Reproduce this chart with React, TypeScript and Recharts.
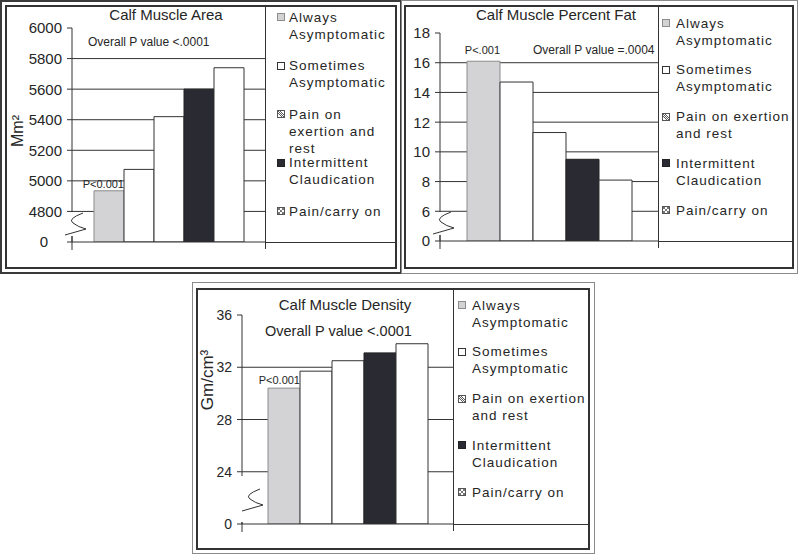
import React from 'react'
import { BarChart, Bar, XAxis, YAxis, CartesianGrid, LabelList } from 'recharts'

// groups shown in every panel (legend order = bar order)
const groups = ['Always Asymptomatic', 'Sometimes Asymptomatic', 'Pain on exertion and rest', 'Intermittent Claudication', 'Pain/carry on']
const groupKeys = ['always', 'sometimes', 'painRest', 'claudication', 'carryOn']
const groupFills = ['#d3d3d5', '#ffffff', '#ffffff', '#2a2a32', '#ffffff']
const groupStrokes = ['#8c8c8c', '#333333', '#333333', '#222222', '#333333']
const legendIcons = ['solid', 'solid', 'hatch', 'solid', 'check']

// values
const areaValues = [4935, 5075, 5420, 5600, 5740]
const fatValues = [16.1, 14.7, 11.3, 9.5, 8.1]
const densityValues = [30.4, 31.7, 32.5, 33.1, 33.8]

// axis ticks (first tick is the broken-axis base, shown as "0")
const areaTicks = [4600, 4800, 5000, 5200, 5400, 5600, 5800, 6000]
const fatTicks = [4, 6, 8, 10, 12, 14, 16, 18]
const densityTicks = [20, 24, 28, 32, 36]

const FONT = '"Liberation Sans", Arial, Helvetica, sans-serif'
const INK = '#262626'

const makeRows = (values: number[]) => {
	const row: Record<string, any> = { name: 'calf' }
	groupKeys.forEach((k, i) => {
		row[k] = values[i]
	})
	return [row]
}

const LegendIcon = ({ kind, fill, stroke }: { kind: string; fill: string; stroke: string }) => (
	<svg width={8} height={8} style={{ display: 'block' }}>
		<rect x={0.5} y={0.5} width={7} height={7} fill={kind === 'solid' ? fill : '#fff'} stroke={kind === 'solid' ? stroke : '#555'} />
		{kind === 'hatch' && <path d="M1 3 L5 7 M1 1 L7 7 M3 1 L7 5" stroke="#444" strokeWidth={0.9} />}
		{kind === 'check' && <path d="M1 1 h2 v2 h-2 Z M5 1 h2 v2 h-2 Z M3 3 h2 v2 h-2 Z M1 5 h2 v2 h-2 Z M5 5 h2 v2 h-2 Z" fill="#777" />}
	</svg>
)

type Note = { text: string; left: number; cy: number; size: number }

type PanelProps = {
	outer: { l: number; t: number; w: number; h: number; color: string; bw: number }
	inner: { l: number; t: number; w: number; h: number }
	plot: { l: number; r: number; t: number; b: number }
	title: string
	titleCx: number
	titleCy: number
	values: number[]
	ticks: number[]
	tickSize: number
	zeroDx: number
	yLabel: string
	yLabelPos: { cx: number; cy: number; size: number }
	notes: Note[]
	pText: string
	pOffset: number
	barSize: number
	legend: { r: number; iconL: number; textL: number; textW: number; firstCy: number; step: number }
	brk: { y1: number; y2: number; dx: number; dy: number }
}

function Panel(p: PanelProps) {
	const yw = 30
	const xh = 10
	const lo = p.ticks[0]
	const hi = p.ticks[p.ticks.length - 1]
	const grid = p.ticks.slice(1, -1)
	const margin = {
		left: p.plot.l - p.outer.l - yw,
		right: p.outer.l + p.outer.w - p.plot.r,
		top: p.plot.t - p.outer.t,
		bottom: p.outer.t + p.outer.h - p.plot.b - xh
	}
	const renderTick = (props: any) => {
		const { x, y, payload } = props
		const isBase = payload.value === lo
		return (
			<text x={x + (isBase ? p.zeroDx : 0)} y={y} dy="0.36em" textAnchor="end" fontSize={p.tickSize} fill={INK} fontFamily={FONT}>
				{isBase ? '0' : payload.value}
			</text>
		)
	}
	const ax = 15
	const ay = 50
	const { dx, dy } = p.brk
	return (
		<>
			<div style={{ position: 'absolute', left: p.outer.l, top: p.outer.t, width: p.outer.w, height: p.outer.h, boxSizing: 'border-box', border: `${p.outer.bw}px solid ${p.outer.color}` }} />
			<div style={{ position: 'absolute', left: p.inner.l, top: p.inner.t, width: p.inner.w, height: p.inner.h, boxSizing: 'border-box', border: `2px solid #333` }} />
			<div style={{ position: 'absolute', left: p.outer.l, top: p.outer.t }}>
				<BarChart width={p.outer.w} height={p.outer.h} data={makeRows(p.values)} margin={margin} barGap={0} barSize={p.barSize}>
					<CartesianGrid vertical={false} horizontalValues={grid} stroke="#333" />
					<XAxis dataKey="name" height={xh} tick={false} tickLine={false} axisLine={{ stroke: '#333' }} />
					<YAxis type="number" width={yw} domain={[lo, hi]} ticks={p.ticks} interval={0} allowDataOverflow tick={renderTick} tickSize={5} tickMargin={5} tickLine={{ stroke: '#333' }} axisLine={{ stroke: '#333' }} />
					{groupKeys.map((k, i) => (
						<Bar key={k} dataKey={k} name={groups[i]} fill={groupFills[i]} stroke={groupStrokes[i]} strokeWidth={1} isAnimationActive={false}>
							{i === 0 && (
								<LabelList
									dataKey={k}
									content={(lp: any) => (
										<text x={lp.x + lp.width} y={lp.y - p.pOffset} dy="0.36em" textAnchor="end" fontSize={11} fill={INK} fontFamily={FONT}>
											{p.pText}
										</text>
									)}
								/>
							)}
						</Bar>
					))}
				</BarChart>
			</div>
			{/* axis break */}
			<svg width={40} height={70} style={{ position: 'absolute', left: p.plot.l - ax, top: p.plot.b - ay }}>
				<rect x={ax - 3} y={ay - p.brk.y1} width={6} height={p.brk.y1 - p.brk.y2} fill="#fff" />
				<path d={`M${ax + 11 + dx} ${ay - 29 + dy} Q${ax - 5 + dx} ${ay - 23 + dy} ${ax + 1 + dx} ${ay - 19 + dy} Q${ax + 6 + dx} ${ay - 15 + dy} ${ax + 14 + dx} ${ay - 13 + dy}`} fill="none" stroke="#333" strokeWidth={1} />
				<path d={`M${ax - 7 + dx} ${ay - 7 + dy} L${ax + 14 + dx} ${ay - 13 + dy}`} stroke="#333" strokeWidth={1} />
				<path d={`M${ax} ${ay - p.brk.y2} L${ax} ${ay + 8}`} stroke="#333" strokeWidth={1} />
			</svg>
			<div style={{ position: 'absolute', left: p.titleCx - 150, width: 300, top: p.titleCy - 9, lineHeight: '18px', fontSize: 15, textAlign: 'center', color: INK }}>{p.title}</div>
			{p.notes.map(n => (
				<div key={n.text} style={{ position: 'absolute', left: n.left, top: n.cy - n.size * 0.6, lineHeight: `${n.size * 1.2}px`, fontSize: n.size, color: INK, whiteSpace: 'nowrap' }}>
					{n.text}
				</div>
			))}
			<div style={{ position: 'absolute', left: p.yLabelPos.cx, top: p.yLabelPos.cy, fontSize: p.yLabelPos.size, color: INK, whiteSpace: 'nowrap', transform: 'translate(-50%, -50%) rotate(-90deg)' }}>{p.yLabel}</div>
			{/* legend box */}
			<div style={{ position: 'absolute', left: p.plot.r, top: p.inner.t + 2, width: 1, height: p.plot.b - p.inner.t + 5, background: '#333' }} />
			<div style={{ position: 'absolute', left: p.plot.r, top: p.plot.b, width: p.legend.r - p.plot.r, height: 1, background: '#333' }} />
			{groups.map((g, i) => (
				<React.Fragment key={g}>
					<div style={{ position: 'absolute', left: p.legend.iconL, top: p.legend.firstCy + i * p.legend.step - 4 }}>
						<LegendIcon kind={legendIcons[i]} fill={groupFills[i]} stroke={groupStrokes[i]} />
					</div>
					<div style={{ position: 'absolute', left: p.legend.textL, width: p.legend.textW, top: p.legend.firstCy + i * p.legend.step - 8.5, lineHeight: '17px', fontSize: 13.5, letterSpacing: 1, color: INK }}>{g}</div>
				</React.Fragment>
			))}
		</>
	)
}

export default function App() {
	return (
		<div style={{ position: 'absolute', left: 0, top: 0, width: 800, height: 555, background: '#fff', fontFamily: FONT, overflow: 'hidden' }}>
			<Panel
				outer={{ l: 0, t: 0, w: 402, h: 274, color: '#3a3a3a', bw: 2 }}
				inner={{ l: 5, t: 5, w: 392, h: 264 }}
				plot={{ l: 72, r: 265, t: 28, b: 242 }}
				title="Calf Muscle Area"
				titleCx={166}
				titleCy={15}
				values={areaValues}
				ticks={areaTicks}
				tickSize={15}
				zeroDx={-14}
				yLabel="Mm²"
				yLabelPos={{ cx: 18, cy: 131, size: 16 }}
				notes={[{ text: 'Overall P value <.0001', left: 88, cy: 42, size: 12 }]}
				pText="P<0.001"
				pOffset={7}
				barSize={30}
				legend={{ r: 396, iconL: 277, textL: 289, textW: 104, firstCy: 17, step: 48.5 }}
				brk={{ y1: 30, y2: 6, dx: 0, dy: 0 }}
			/>
			<Panel
				outer={{ l: 401, t: 0, w: 397, h: 274, color: '#8a8a8a', bw: 1 }}
				inner={{ l: 404, t: 5, w: 390, h: 264 }}
				plot={{ l: 440, r: 658, t: 33, b: 241 }}
				title="Calf Muscle Percent Fat"
				titleCx={556}
				titleCy={15}
				values={fatValues}
				ticks={fatTicks}
				tickSize={15}
				zeroDx={0}
				yLabel=""
				yLabelPos={{ cx: 0, cy: 0, size: 12 }}
				notes={[{ text: 'Overall P value =.0004', left: 533, cy: 50, size: 12 }]}
				pText="P<.001"
				pOffset={11}
				barSize={33}
				legend={{ r: 793, iconL: 662, textL: 676, textW: 120, firstCy: 23, step: 46.8 }}
				brk={{ y1: 29, y2: 6, dx: 0, dy: 0 }}
			/>
			<Panel
				outer={{ l: 192, t: 282, w: 403, h: 272, color: '#8a8a8a', bw: 1 }}
				inner={{ l: 196, t: 288, w: 394, h: 262 }}
				plot={{ l: 242, r: 453, t: 315, b: 524 }}
				title="Calf Muscle Density"
				titleCx={345}
				titleCy={305}
				values={densityValues}
				ticks={densityTicks}
				tickSize={14}
				zeroDx={0}
				yLabel="Gm/cm³"
				yLabelPos={{ cx: 208, cy: 380, size: 17 }}
				notes={[{ text: 'Overall P value <.0001', left: 265, cy: 332, size: 14.5 }]}
				pText="P<0.001"
				pOffset={8}
				barSize={32}
				legend={{ r: 590, iconL: 458, textL: 472, textW: 120, firstCy: 305, step: 46.8 }}
				brk={{ y1: 48, y2: 2, dx: 7, dy: -6 }}
			/>
		</div>
	)
}
